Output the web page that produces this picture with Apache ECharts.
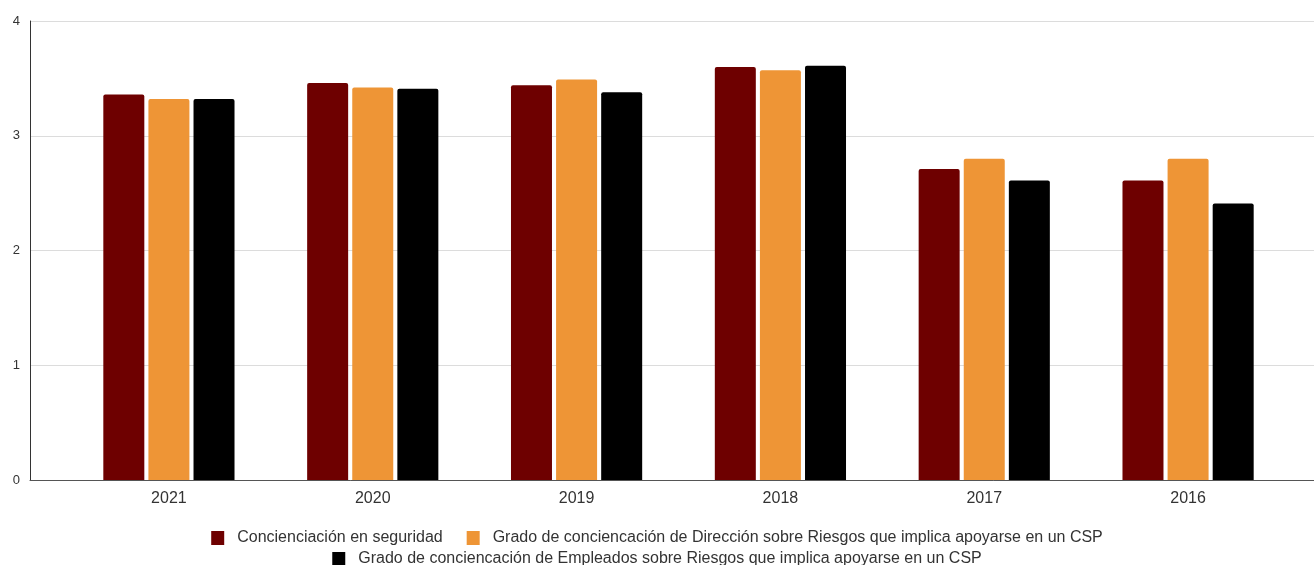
<!DOCTYPE html>
<html>
<head>
<meta charset="utf-8">
<script src="https://cdn.jsdelivr.net/npm/echarts@6/dist/echarts.min.js"></script>
<style>
  html, body { margin: 0; padding: 0; background: #fff; }
  #chart { width: 1314px; height: 565px; }
</style>
</head>
<body>
<div id="chart"></div>
<script>
// Years shown on the category axis (most recent first)
const years = ['2021', '2020', '2019', '2018', '2017', '2016'];

// Series names
const nameSeguridad = 'Concienciación en seguridad';
const nameDireccion = 'Grado de conciencación de Dirección sobre Riesgos que implica apoyarse en un CSP';
const nameEmpleados = 'Grado de conciencación de Empleados sobre Riesgos que implica apoyarse en un CSP';

// Average scores per year
const seguridad = [3.36, 3.46, 3.44, 3.60, 2.71, 2.61];
const direccion = [3.32, 3.42, 3.49, 3.57, 2.80, 2.80];
const empleados = [3.32, 3.41, 3.38, 3.61, 2.61, 2.41];

// Value-axis ticks
const yTicks = [0, 1, 2, 3, 4];

const colors = ['#6e0000', '#ee9536', '#000000'];
const font = 'Liberation Sans, Arial, sans-serif';

const chart = echarts.init(document.getElementById('chart'), null, { renderer: 'canvas' });

const barSeries = (name, data, color) => ({
  name,
  type: 'bar',
  xAxisIndex: 1,
  yAxisIndex: 1,
  data,
  barWidth: 41,
  barGap: '10%',
  itemStyle: { color, borderRadius: [2, 2, 0, 0] }
});

const legendText = { color: '#333', fontSize: 16, fontFamily: font, padding: [0, 0, 0, 8] };

chart.setOption({
  backgroundColor: '#ffffff',
  animation: false,
  textStyle: { fontFamily: font },
  grid: [
    // frame: value axis, gridlines and baseline across the full width
    { left: 30, right: 0, top: 21, bottom: 85 },
    // bars
    { left: 67, right: 24, top: 21, bottom: 85 }
  ],
  xAxis: [
    {
      gridIndex: 0, type: 'value', min: 0, max: 1,
      axisLine: { show: true, lineStyle: { color: '#555', width: 1 } },
      axisTick: { show: false }, axisLabel: { show: false }, splitLine: { show: false }
    },
    {
      gridIndex: 1, type: 'category', data: years,
      axisLine: { show: false }, axisTick: { show: false },
      axisLabel: { color: '#333', fontSize: 16, margin: 11, fontFamily: font }
    }
  ],
  yAxis: [
    {
      gridIndex: 0, type: 'value', min: yTicks[0], max: yTicks[yTicks.length - 1], interval: 1,
      axisLine: { show: true, lineStyle: { color: '#333', width: 1 } },
      axisTick: { show: false },
      axisLabel: { color: '#333', fontSize: 13, margin: 10, fontFamily: font },
      splitLine: { show: true, lineStyle: { color: '#dcdcdc', width: 1 } }
    },
    {
      gridIndex: 1, type: 'value', min: yTicks[0], max: yTicks[yTicks.length - 1],
      show: false, splitLine: { show: false }
    }
  ],
  legend: [
    {
      data: [nameSeguridad, nameDireccion],
      top: 525, left: 'center',
      itemWidth: 13, itemHeight: 14, itemGap: 24,
      icon: 'rect',
      textStyle: legendText
    },
    {
      data: [nameEmpleados],
      top: 546, left: 'center',
      itemWidth: 13, itemHeight: 14,
      icon: 'rect',
      textStyle: legendText
    }
  ],
  series: [
    barSeries(nameSeguridad, seguridad, colors[0]),
    barSeries(nameDireccion, direccion, colors[1]),
    barSeries(nameEmpleados, empleados, colors[2])
  ]
});
</script>
</body>
</html>
